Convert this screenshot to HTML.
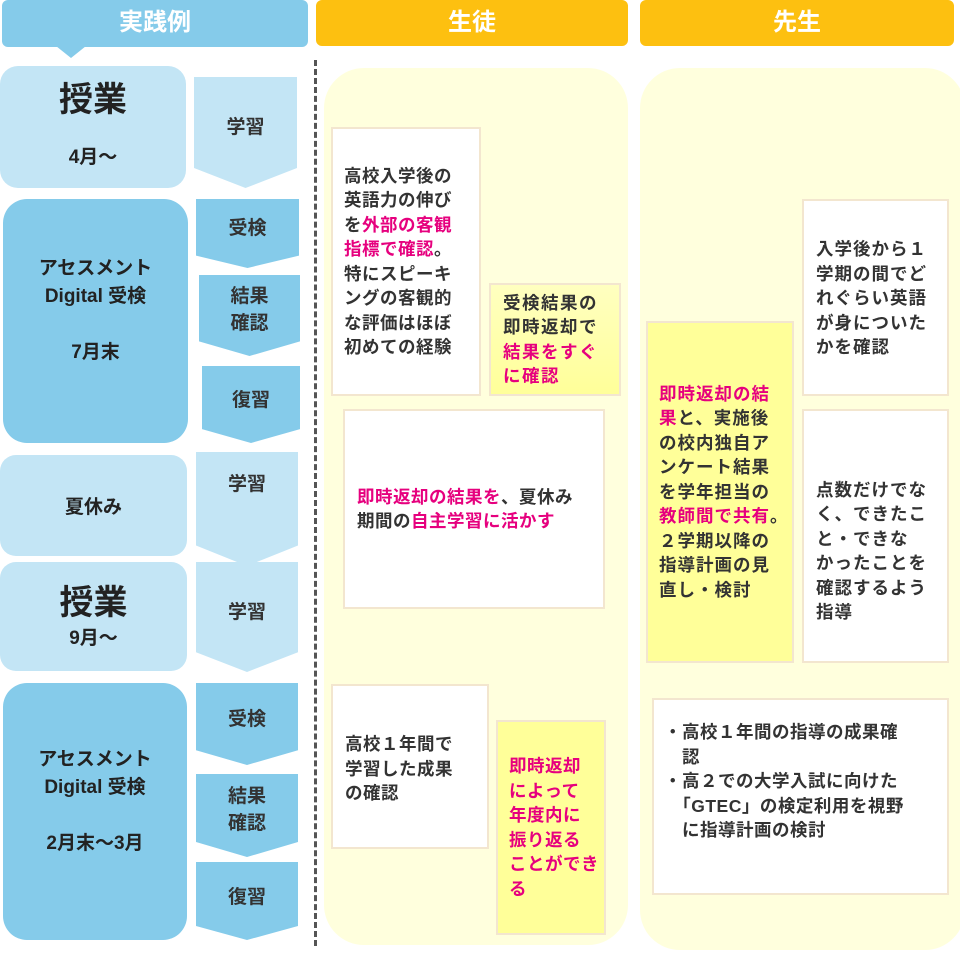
<!DOCTYPE html>
<html><head><meta charset="utf-8"><style>
*{margin:0;padding:0;box-sizing:border-box}
body{width:960px;height:954px;background:#fff;position:relative;overflow:hidden;font-family:"Liberation Sans","Noto Sans CJK JP",sans-serif;color:#222;font-weight:bold}
.a{position:absolute}
.hd{color:#fff;font-size:24px;text-align:center;line-height:46px;border-radius:6px}
.lb{background:#c3e5f5}.mb{background:#85cbea}
.bx{position:absolute;display:flex;align-items:center;justify-content:center;text-align:center;flex-direction:column}
.ar{position:absolute;display:flex;align-items:center;justify-content:center;text-align:center;font-size:19px;line-height:27px;color:#333;clip-path:polygon(0 0,100% 0,100% 82%,50% 100%,0 82%)}
.t{position:absolute;font-size:17.5px;line-height:24.5px;color:#333;letter-spacing:0.5px;display:flex;align-items:center;border:2px solid #f3e6cf;white-space:nowrap}
.w{background:#fff}.y{background:#ffff99}
.p{color:#e6007e}
</style></head><body>
<div class="a hd mb" style="left:2px;top:0;width:306px;height:47px">実践例</div>
<div class="a" style="left:56px;top:46px;width:0;height:0;border-left:15px solid transparent;border-right:15px solid transparent;border-top:12px solid #85cbea"></div>
<div class="a hd" style="left:316px;top:0;width:312px;height:46px;background:#fdc010">生徒</div>
<div class="a hd" style="left:640px;top:0;width:314px;height:46px;background:#fdc010">先生</div>
<div class="a" style="left:314px;top:60px;height:886px;border-left:3px dashed #555"></div>
<div class="a" style="left:324px;top:68px;width:304px;height:877px;background:#ffffdd;border-radius:40px"></div>
<div class="a" style="left:640px;top:68px;width:325px;height:882px;background:#ffffdd;border-radius:40px"></div>

<div class="bx lb" style="left:0;top:66px;width:186px;height:122px;border-radius:18px"><div style="font-size:34px;line-height:40px;margin-top:-6px">授業</div><div style="font-size:19px;margin-top:22px">4月～</div></div>
<div class="ar lb" style="left:194px;top:77px;width:103px;height:111px;padding-bottom:10px">学習</div>
<div class="bx mb" style="left:3px;top:199px;width:185px;height:244px;border-radius:24px;font-size:19px;line-height:28px;padding-bottom:20px">アセスメント<br>Digital 受検<br><br>7月末</div>
<div class="ar mb" style="left:196px;top:199px;width:103px;height:69px;padding-bottom:10px">受検</div>
<div class="ar mb" style="left:199px;top:275px;width:101px;height:81px;padding-bottom:12px">結果<br>確認</div>
<div class="ar mb" style="left:202px;top:366px;width:98px;height:77px;padding-bottom:8px">復習</div>
<div class="bx lb" style="left:0;top:455px;width:187px;height:101px;border-radius:16px;font-size:19px">夏休み</div>
<div class="ar lb" style="left:196px;top:452px;width:102px;height:114px;padding-bottom:50px">学習</div>
<div class="bx lb" style="left:0;top:562px;width:187px;height:109px;border-radius:16px"><div style="font-size:34px;line-height:40px">授業</div><div style="font-size:19px">9月～</div></div>
<div class="ar lb" style="left:196px;top:562px;width:102px;height:110px;padding-bottom:10px">学習</div>
<div class="bx mb" style="left:3px;top:683px;width:184px;height:257px;border-radius:24px;font-size:19px;line-height:28px;padding-bottom:20px">アセスメント<br>Digital 受検<br><br>2月末～3月</div>
<div class="ar mb" style="left:196px;top:683px;width:102px;height:82px;padding-bottom:10px">受検</div>
<div class="ar mb" style="left:196px;top:774px;width:102px;height:83px;padding-bottom:12px">結果<br>確認</div>
<div class="ar mb" style="left:196px;top:862px;width:102px;height:78px;padding-bottom:8px">復習</div>

<div class="t w" style="left:331px;top:127px;width:150px;height:269px;padding-left:11px"><div>高校入学後の<br>英語力の伸び<br>を<span class="p">外部の客観<br>指標で確認</span>。<br>特にスピーキ<br>ングの客観的<br>な評価はほぼ<br>初めての経験</div></div>
<div class="t y" style="left:489px;top:283px;width:132px;height:113px;padding-left:12px;letter-spacing:1.5px;background:linear-gradient(#ffffc0,#ffff99)"><div>受検結果の<br>即時返却で<br><span class="p">結果をすぐ<br>に確認</span></div></div>
<div class="t w" style="left:343px;top:409px;width:262px;height:200px;padding-left:12px"><div><span class="p">即時返却の結果を</span>、夏休み<br>期間の<span class="p">自主学習に活かす</span></div></div>
<div class="t w" style="left:331px;top:684px;width:158px;height:165px;padding-left:12px;align-items:flex-start;padding-top:46px"><div>高校１年間で<br>学習した成果<br>の確認</div></div>
<div class="t y" style="left:496px;top:720px;width:110px;height:215px;padding-left:11px"><div class="p">即時返却<br>によって<br>年度内に<br>振り返る<br>ことができ<br>る</div></div>

<div class="t y" style="left:646px;top:321px;width:148px;height:342px;padding-left:11px;letter-spacing:1px"><div><span class="p">即時返却の結<br>果</span>と、実施後<br>の校内独自ア<br>ンケート結果<br>を学年担当の<br><span class="p">教師間で共有</span>。<br>２学期以降の<br>指導計画の見<br>直し・検討</div></div>
<div class="t w" style="left:802px;top:199px;width:147px;height:197px;padding-left:12px;letter-spacing:1px;align-items:flex-start;padding-top:36px"><div>入学後から１<br>学期の間でど<br>れぐらい英語<br>が身についた<br>かを確認</div></div>
<div class="t w" style="left:802px;top:409px;width:147px;height:254px;padding-left:12px;letter-spacing:1px;padding-top:30px"><div>点数だけでな<br>く、できたこ<br>と・できな<br>かったことを<br>確認するよう<br>指導</div></div>
<div class="t w" style="left:652px;top:698px;width:297px;height:197px;padding-left:10px;padding-bottom:30px"><div>・高校１年間の指導の成果確<br>　認<br>・高２での大学入試に向けた<br>　「GTEC」の検定利用を視野<br>　に指導計画の検討</div></div>
</body></html>
